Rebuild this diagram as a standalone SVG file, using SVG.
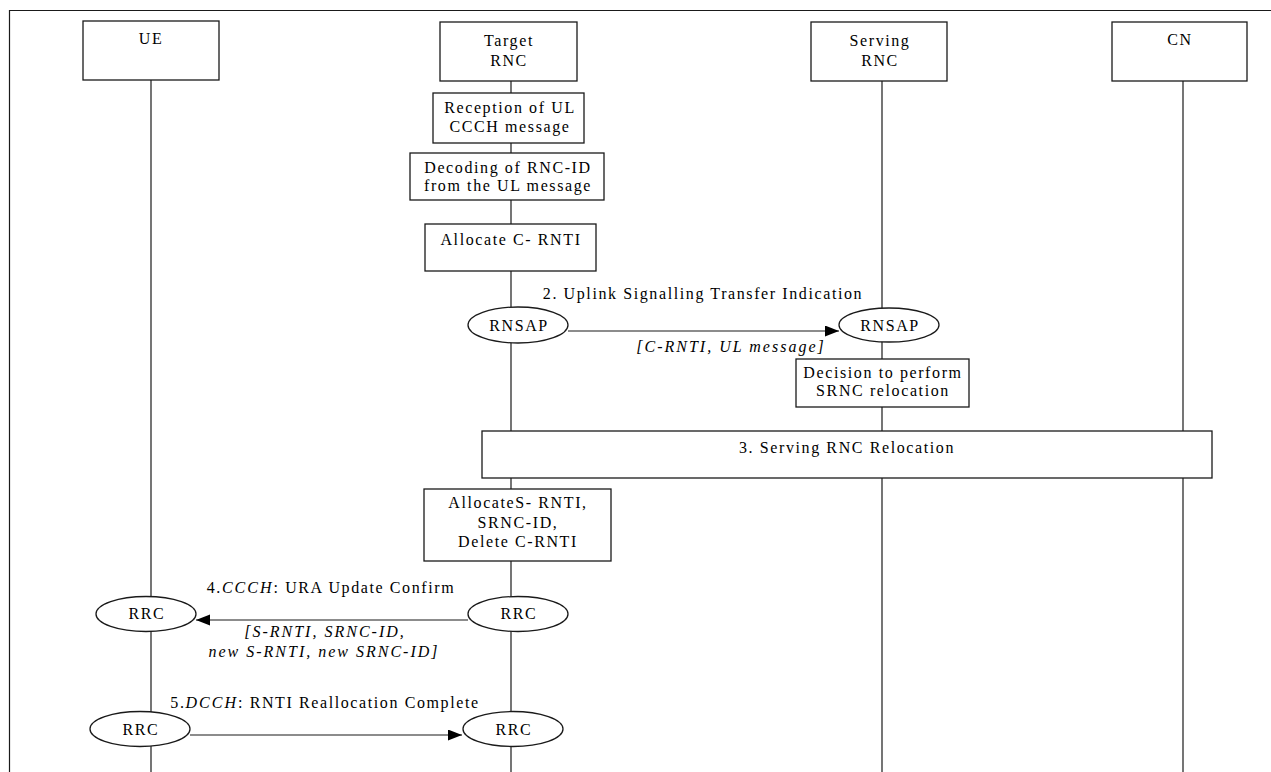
<svg xmlns="http://www.w3.org/2000/svg" width="1271" height="772" viewBox="0 0 1271 772">
<style>
  .ln { stroke: #1a1a1a; stroke-width: 1.2; fill: none; }
  .bx { stroke: #1a1a1a; stroke-width: 1.3; fill: #ffffff; }
  .t { font-family: "Liberation Serif", "Times New Roman", serif; font-size: 16px; fill: #000; letter-spacing: 1.6px; text-anchor: middle; }
  .i { font-style: italic; letter-spacing: 2px; }
</style>
<defs>
  <marker id="ah" markerUnits="userSpaceOnUse" markerWidth="15" markerHeight="12" refX="14" refY="5.5" orient="auto">
    <path d="M0,0 L14,5.5 L0,11 z" fill="#000"/>
  </marker>
</defs>
<rect x="0" y="0" width="1271" height="772" fill="#ffffff"/>
<g id="frame">
  <path class="ln" d="M9.5,772 L9.5,10.5 L1271,10.5" stroke-width="1.4"/>
</g>
<g id="lifelines">
  <line class="ln" x1="151" y1="80" x2="151" y2="772"/>
  <line class="ln" x1="511" y1="81" x2="511" y2="772"/>
  <line class="ln" x1="882" y1="81" x2="882" y2="772"/>
  <line class="ln" x1="1183" y1="81" x2="1183" y2="772"/>
</g>
<g id="ue">
  <rect class="bx" x="83" y="21" width="136" height="59"/>
  <text class="t" x="151" y="44">UE</text>
</g>
<g id="target-rnc">
  <rect class="bx" x="440" y="22" width="137" height="59"/>
  <text class="t" x="509" y="46">Target</text>
  <text class="t" x="509" y="66">RNC</text>
</g>
<g id="serving-rnc">
  <rect class="bx" x="811" y="22" width="136" height="59"/>
  <text class="t" x="880" y="46">Serving</text>
  <text class="t" x="880" y="66">RNC</text>
</g>
<g id="cn">
  <rect class="bx" x="1112" y="22" width="135" height="59"/>
  <text class="t" x="1180" y="45">CN</text>
</g>
<g id="reception">
  <rect class="bx" x="433" y="93" width="151" height="50"/>
  <text class="t" x="510" y="113">Reception of UL</text>
  <text class="t" x="510" y="132">CCCH message</text>
</g>
<g id="decoding">
  <rect class="bx" x="410" y="153" width="194" height="47"/>
  <text class="t" x="508" y="173">Decoding of RNC-ID</text>
  <text class="t" x="508" y="191">from the UL message</text>
</g>
<g id="allocate-c-rnti">
  <rect class="bx" x="425" y="224" width="171" height="47"/>
  <text class="t" x="511" y="245">Allocate C- RNTI</text>
</g>
<g id="rnsap-target">
  <ellipse class="bx" cx="518" cy="325" rx="50" ry="18"/>
  <text class="t" x="519" y="331">RNSAP</text>
</g>
<g id="rnsap-serving">
  <ellipse class="bx" cx="889" cy="325" rx="50" ry="17"/>
  <text class="t" x="890" y="331">RNSAP</text>
</g>
<g id="decision">
  <rect class="bx" x="796" y="359" width="173" height="48"/>
  <text class="t" x="883" y="378">Decision to perform</text>
  <text class="t" x="883" y="396">SRNC relocation</text>
</g>
<g id="relocation">
  <rect class="bx" x="482" y="431" width="730" height="47"/>
  <text class="t" x="847" y="453">3. Serving RNC Relocation</text>
</g>
<g id="allocate-s-rnti">
  <rect class="bx" x="424" y="489" width="187" height="72"/>
  <text class="t" x="518" y="508">AllocateS- RNTI,</text>
  <text class="t" x="518" y="528">SRNC-ID,</text>
  <text class="t" x="518" y="547">Delete C-RNTI</text>
</g>
<g id="rrc-ue-1">
  <ellipse class="bx" cx="146" cy="614" rx="50" ry="17.5"/>
  <text class="t" x="147" y="619">RRC</text>
</g>
<g id="rrc-target-1">
  <ellipse class="bx" cx="518" cy="614" rx="50" ry="17.5"/>
  <text class="t" x="519" y="619">RRC</text>
</g>
<g id="rrc-ue-2">
  <ellipse class="bx" cx="140" cy="729" rx="50" ry="17.5"/>
  <text class="t" x="141" y="735">RRC</text>
</g>
<g id="rrc-target-2">
  <ellipse class="bx" cx="513" cy="729" rx="50" ry="17.5"/>
  <text class="t" x="514" y="735">RRC</text>
</g>
<g id="connectors">
  <line class="ln" x1="568" y1="331" x2="839" y2="331" marker-end="url(#ah)"/>
  <line class="ln" x1="468" y1="620" x2="196" y2="620" marker-end="url(#ah)"/>
  <line class="ln" x1="190" y1="735" x2="462" y2="735" marker-end="url(#ah)"/>
</g>
<g id="labels">
  <text class="t" x="703" y="299">2. Uplink Signalling Transfer Indication</text>
  <text class="t i" x="731" y="352">[C-RNTI, UL message]</text>
  <text class="t" x="331" y="593">4.<tspan class="i">CCCH</tspan>: URA Update Confirm</text>
  <text class="t i" x="325" y="637">[S-RNTI, SRNC-ID,</text>
  <text class="t i" x="324" y="657">new S-RNTI, new SRNC-ID]</text>
  <text class="t" x="325" y="708">5.<tspan class="i">DCCH</tspan>: RNTI Reallocation Complete</text>
</g>
</svg>
